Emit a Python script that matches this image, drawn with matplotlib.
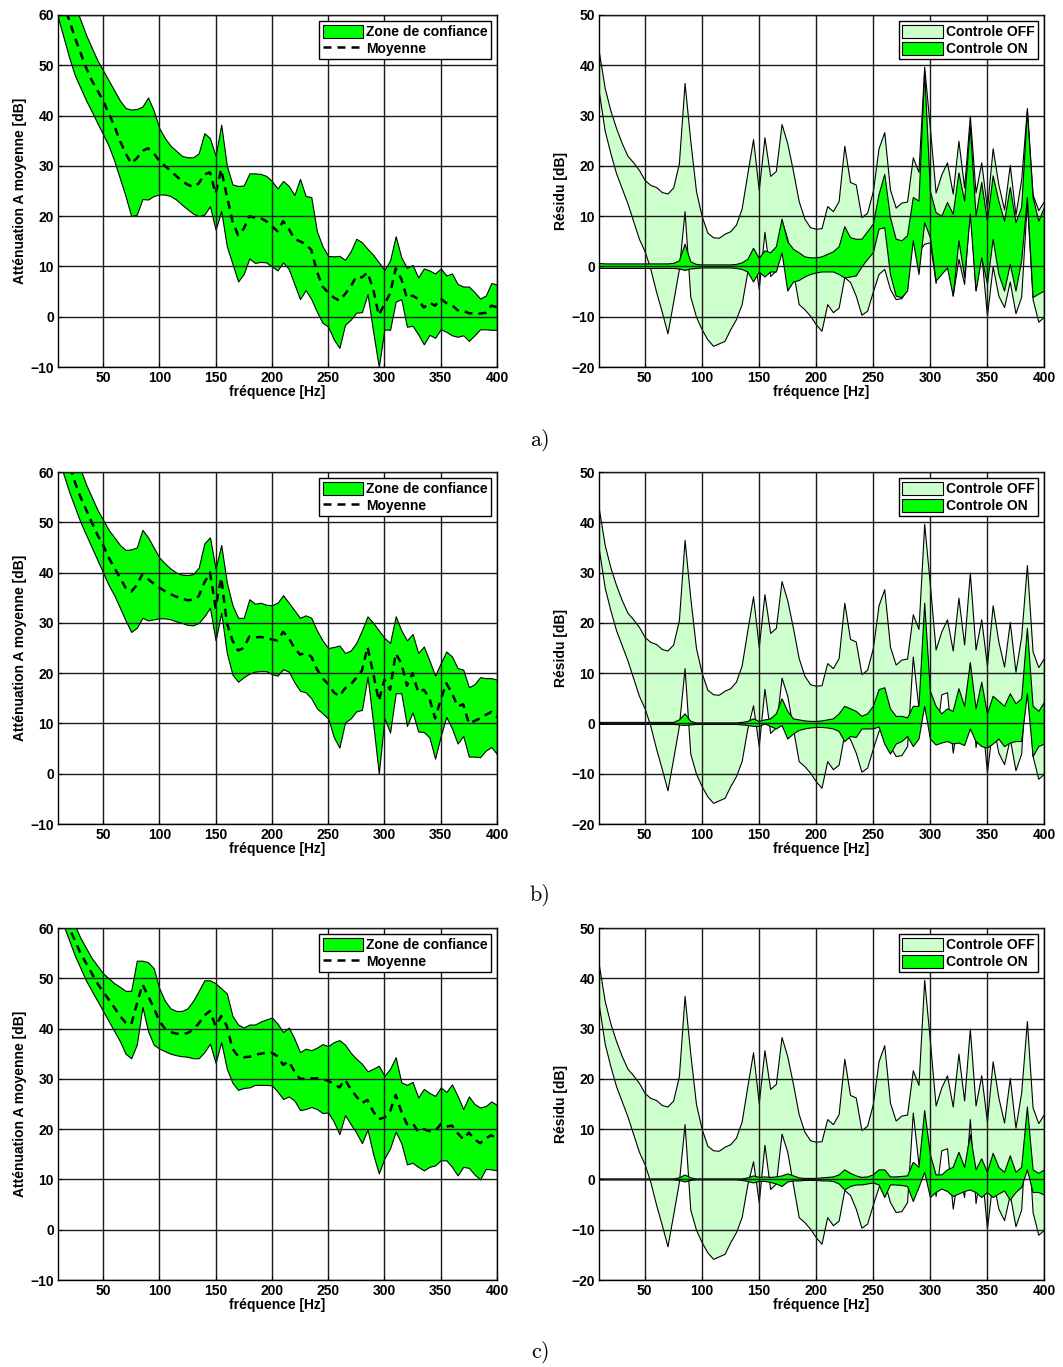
import numpy as np
import matplotlib
matplotlib.use("Agg")
import matplotlib.pyplot as plt
from matplotlib.patches import Patch
from matplotlib.lines import Line2D

plt.rcParams['font.family'] = ['Liberation Sans', 'DejaVu Sans']
plt.rcParams['font.weight'] = 'bold'
plt.rcParams['axes.unicode_minus'] = True

# frequences (Hz)
freq = np.arange(10, 405, 5)

# ---------------- attenuation (colonne gauche) ----------------
att_a_hi = [72, 68, 65, 62, 59, 56, 53.5, 51, 49, 47,
            45, 43, 41.5, 41.2, 41.3, 41.8, 43.6, 41, 37.5, 35.5,
            34, 33, 32, 31.7, 31.7, 32.5, 36.5, 35.5, 32, 38.2,
            30, 26.3, 26, 26.1, 28.5, 28.5, 28.4, 28, 27, 25.5,
            27, 26, 24.2, 27.4, 24, 23.8, 17, 14, 12.1, 12,
            12.1, 11.3, 13, 15.5, 14.8, 13.5, 12.3, 10.8, 9.3, 11.2,
            16, 11.8, 9.7, 10.3, 7.8, 9.6, 9.2, 8.6, 9.6, 8.2,
            8.6, 6.5, 6, 6, 4.9, 3.6, 4.2, 6.7, 6.4]
att_a_lo = [59.5, 55.5, 51.5, 48, 45.5, 43, 40.8, 38.5, 36.3, 34,
            31, 27.5, 24, 20, 20.3, 23.4, 23.3, 24, 24.3, 24.3,
            24, 23.3, 22.3, 21.4, 20.5, 20, 20.3, 22, 17.3, 21,
            14, 10.5, 7, 8.5, 11.6, 10.7, 10.9, 10.8, 10, 9.2,
            10.8, 9.5, 6.5, 3.5, 5.3, 3.5, 1, -1.2, -2, -4.5,
            -6.2, -1.6, -0.6, 0.8, 0.9, 4.5, -3, -10, -2.5, -2.6,
            3, 3.5, -2, -1.8, -3.5, -5.5, -3.6, -4.2, -2.5, -3,
            -3.7, -4, -3.7, -4.8, -3.7, -2.5, -2.5, -2.6, -2.6]
att_a_moy = [66, 62, 59, 55.5, 52.5, 49.5, 47, 45, 43, 40.5,
             38, 35, 32.5, 30.5, 31.5, 33, 33.5, 32.5, 31, 30,
             29, 28, 27, 26.3, 25.8, 26.5, 28.3, 28.7, 24.5, 29.3,
             24, 19, 16.2, 17.5, 20, 19.7, 19.6, 19, 18, 17,
             19, 17.5, 15.5, 15, 14.4, 13.3, 9, 6, 4.8, 3.8,
             3.2, 4.5, 6, 8, 7.8, 8.8, 5.5, 0.3, 2.5, 4.6,
             9.6, 7.5, 3.7, 4.2, 3.5, 1.8, 2.8, 2.2, 3.6, 2.7,
             2.3, 1.3, 1.2, 0.7, 0.6, 0.6, 0.8, 2.2, 1.9]

att_b_hi = [75, 71, 67, 63.5, 60.5, 57.5, 55, 52.5, 50.5, 48.5,
            47, 45.5, 44.5, 44.6, 45, 48.5, 47, 45, 43, 41.8,
            40.8, 40, 39.6, 39.5, 39.7, 41, 45.8, 47, 40.8, 45.5,
            38, 33.5, 31, 31, 34.7, 33.8, 34, 33.6, 33.5, 34,
            35.5, 34, 32.5, 31, 31.5, 31, 28.5, 26.5, 25, 25.2,
            25.5, 24, 24.5, 26, 28.5, 31.3, 30, 28.5, 27, 26,
            31.3, 28.5, 26.5, 27.8, 24, 25.3, 22.5, 19.5, 22, 24.3,
            23.3, 21, 20.7, 17.2, 17.8, 19.2, 19, 19, 18.7]
att_b_lo = [63, 59.5, 56, 53, 50, 47.5, 45, 42.5, 40, 37.5,
            35.5, 33, 30.5, 28.2, 29, 31, 30.5, 30.7, 30.9, 30.9,
            30.7, 30.3, 30, 29.6, 29.5, 30, 31.3, 33, 26.5, 32,
            24, 19.7, 18.3, 19.2, 19.9, 20.3, 20.4, 20.4, 19.8, 19.5,
            20.8, 20.3, 18.2, 16.5, 16.2, 15, 13, 12, 11, 7.3,
            5.2, 10.2, 11, 12.4, 12.7, 19.3, 10, 0, 11, 8.2,
            16, 16, 9.5, 12.2, 8.4, 8.3, 7.2, 3, 7.5, 11.3,
            9, 6, 7.5, 3.4, 3.4, 3.3, 4.6, 5.3, 3.9]
att_b_moy = [69, 65, 61.5, 58, 55, 52.5, 50, 47.5, 45.5, 43,
             41, 39, 37, 36.2, 37.5, 39.7, 38.7, 37.8, 37, 36.3,
             35.7, 35.2, 34.8, 34.5, 34.6, 35.3, 38, 40, 33, 39,
             30, 26.5, 24.5, 25, 27.3, 27.1, 27.2, 27, 26.7, 26.5,
             28.2, 27, 25, 23.7, 24, 23.3, 20.8, 19, 17.8, 16.2,
             15.4, 17, 17.7, 19.1, 20.5, 25.2, 20, 14.5, 18.7, 16.7,
             23.9, 22, 17.5, 20, 16.2, 16.7, 15, 11, 14.7, 18,
             16, 13.4, 13.8, 10, 10.5, 11, 11.7, 12.3, 11.3]

att_c_hi = [70, 66, 63, 60.5, 58, 56, 54, 52.5, 51, 50,
            49, 48.3, 47.5, 47.5, 53.5, 53.5, 53.2, 52, 48, 45.5,
            44, 43.5, 43.5, 44, 45.5, 47.5, 49.6, 49.6, 49, 48,
            47, 42.5, 40.8, 40.2, 40.8, 40.8, 41.4, 41.8, 42.2, 41,
            39.3, 40.2, 38, 35.3, 36, 35.7, 36.2, 36.9, 36.5, 37.3,
            37.7, 36.8, 35.2, 34, 33, 31.5, 32, 32.6, 30.6, 32,
            34.3, 29.3, 28.8, 29.4, 26.3, 28, 27.2, 26.6, 28.3, 27.4,
            28.9, 26.6, 24, 26.5, 25, 24.3, 24.6, 25.5, 24.8]
att_c_lo = [64, 60.5, 57.5, 54.5, 52, 49.5, 47.5, 45.5, 43.5, 41.5,
            39.5, 37.5, 35, 34.1, 36.8, 44.3, 39.5, 36.8, 36, 35.5,
            35, 34.7, 34.5, 34.4, 34.1, 34.1, 35.3, 37, 33.2, 37.3,
            32, 29.2, 27.8, 28.2, 28.3, 28.8, 28.8, 28.8, 28.7, 27.5,
            26, 26.5, 25.7, 23.8, 24, 24.4, 24, 23.2, 23.3, 21.5,
            19, 22.8, 21, 19.3, 17.2, 19.9, 15, 11.2, 14.2, 16.2,
            19.5, 17.2, 13, 13.3, 12.5, 11.8, 12.5, 12.8, 13.8, 13.8,
            12.5, 10.8, 12.5, 12.3, 11, 10, 12.1, 12, 11.8]
att_c_moy = [67, 63, 60, 57.5, 55, 53, 51, 49, 47.3, 45.8,
             44.2, 42.5, 41.2, 40.8, 44.8, 48.8, 46.5, 44.2, 41.5, 40,
             39.3, 39, 38.9, 39.1, 39.8, 41, 42.6, 43.5, 40.5, 42.5,
             40.5, 36, 34.5, 34.3, 34.4, 34.8, 35, 35.2, 35.2, 34.5,
             32.8, 33.5, 31.5, 30, 30, 30.1, 30.1, 30, 29.6, 29,
             28.3, 29.8, 28, 26.5, 25.2, 25.8, 23.5, 22, 22.3, 23.5,
             26.8, 23.5, 21, 21.2, 19.5, 20, 19.6, 19.6, 21, 20.5,
             20.7, 19.2, 18, 19.3, 18, 17.2, 18.2, 18.8, 18]

# ---------------- residu (colonne droite) ----------------
off_hi = [42.5, 35.5, 31, 27.5, 24.5, 22, 20.7, 19.2, 17.2, 16.2,
          15.8, 14.8, 14.5, 15.7, 20.5, 36.5, 25, 15, 10, 6.7,
          5.8, 5.7, 6.5, 7, 8.3, 11.5, 18.5, 25.3, 15.2, 25.7,
          18, 19, 28.3, 24.5, 19, 13, 9.5, 7.8, 7.5, 7.6,
          12, 11, 13, 24, 16.8, 16.3, 9.8, 10.7, 15, 23.5,
          26.7, 15.3, 11.7, 12.7, 12.9, 21.7, 18.8, 39.7, 27.5, 14.7,
          18.3, 20.7, 14.5, 25, 15.7, 30, 14.7, 20.7, 11.5, 23.5,
          16.3, 11.3, 20.2, 10.3, 17.3, 31.5, 14.3, 11.2, 13]
off_lo = [34.5, 27, 22.5, 18.5, 15.5, 12.5, 9, 5.5, 3, -0.5,
          -5, -9, -13.3, -7, -0.5, 11, -6, -10, -12.5, -14.5,
          -15.8, -15.3, -14.8, -12.5, -10.5, -7.5, -1, 3.6, -4.5, 6.9,
          -1.9, -0.8, 9.1, 5.5, -1, -7.5, -8.5, -9.8, -11.5, -12.8,
          -7.5, -9.1, -8.2, -2.1, -3.1, -5.8, -9.6, -8.8, -5, -1.5,
          -0.5, -4.5, -6.5, -6.3, -4.5, 13.3, 3, 4.5, 4.8, -3.3,
          5.8, 6.2, -5.8, 1.5, -3.5, 12, -4.7, 2.5, -9.8, 0,
          -5.8, -8.1, -3, -9.3, -6, 13, -6.5, -11, -10]

on_a_hi = [0.7, 0.6, 0.6, 0.6, 0.6, 0.6, 0.6, 0.6, 0.6, 0.6,
           0.6, 0.6, 0.6, 0.7, 1.2, 4.5, 1, 0.5, 0.4, 0.4,
           0.4, 0.4, 0.4, 0.4, 0.5, 0.8, 1.5, 3.7, 1.7, 3.2,
           2.8, 4, 9.5, 5, 3.5, 2.8, 2, 1.8, 1.8, 2,
           2.5, 3, 4, 8, 5.8, 5.5, 5.5, 7, 8.5, 14.4,
           18.4, 9.8, 5.5, 5.2, 6.2, 13.8, 13.1, 38.9, 15, 10.8,
           10.1, 12.8, 10.5, 18.7, 13.1, 28, 10.1, 16.8, 9.1, 18.1,
           13.1, 9.1, 15.8, 8.8, 11.8, 31, 13.8, 9.1, 11.8]
on_a_lo = [-0.3, -0.3, -0.3, -0.3, -0.3, -0.3, -0.3, -0.3, -0.3, -0.3,
           -0.3, -0.3, -0.3, -0.3, -0.4, -0.7, -0.4, -0.3, -0.2, -0.2,
           -0.2, -0.2, -0.2, -0.2, -0.3, -0.5, -1, -3, -1, -2,
           -1, -1, 2.8, -4.8, -3, -2.7, -2, -1.5, -1.2, -1,
           -1, -1, -1.5, -2.2, -2, -1.8, 0, 1.5, 2.8, 7.5,
           7.8, -1.5, -5.8, -6.1, -4.8, 5.2, -1.5, 8.8, 5.8, -2.8,
           -1.5, -0.2, -5.8, 5.2, -2.1, 10.5, -4.8, 1.8, -3.4, 5.5,
           -1.5, -4.8, 0.5, -4.8, 1.2, 13.8, -6.1, -5.4, -4.8]

on_b_hi = [0.3, 0.3, 0.3, 0.3, 0.3, 0.3, 0.3, 0.3, 0.3, 0.3,
           0.3, 0.3, 0.3, 0.3, 0.8, 2, 0.5, 0.2, 0.2, 0.2,
           0.2, 0.2, 0.2, 0.2, 0.2, 0.3, 0.5, 1, 0.5, 0.8,
           1, 2, 5, 2.5, 1, 0.8, 0.6, 0.5, 0.5, 0.6,
           0.8, 1, 2, 3.5, 3, 2.5, 1.5, 2, 3.5, 6.8,
           7.2, 3, 1.5, 1.5, 1.2, 3.5, 3.5, 24, 6.5, 3.5,
           2, 3, 2.5, 7, 3.5, 12.2, 3, 8.3, 2, 5.5,
           4.5, 3.5, 6, 4, 5, 19, 3.5, 2.5, 4.3]
on_b_lo = [-0.1, -0.1, -0.1, -0.1, -0.1, -0.1, -0.1, -0.1, -0.1, -0.1,
           -0.1, -0.1, -0.1, -0.1, -0.2, -0.3, -0.2, -0.1, -0.1, -0.1,
           -0.1, -0.1, -0.1, -0.1, -0.1, -0.2, -0.3, -0.5, -0.5, 0,
           -0.5, -1, -0.3, -3, -2, -1.3, -1, -0.8, -0.7, -0.7,
           -0.8, -1, -1.5, -3.5, -2.5, -2.7, -1, -1, -1, -0.6,
           -4, -6, -4, -3.5, -2.5, -4.5, -3, 3.5, -3, -4.2,
           -3.8, -3.5, -4, -3.8, -4.3, -1, -3.5, -4.5, -4.8, -4,
           -3, -4.5, -3.8, -3.5, -3.5, 6, -6.5, -4.5, -4]

on_c_hi = [0.2, 0.2, 0.2, 0.2, 0.2, 0.2, 0.2, 0.2, 0.2, 0.2,
           0.2, 0.2, 0.2, 0.2, 0.4, 1, 0.4, 0.2, 0.2, 0.2,
           0.2, 0.2, 0.2, 0.2, 0.2, 0.2, 0.4, 0.8, 0.5, 0.6,
           0.5, 0.6, 0.8, 1.2, 0.8, 0.4, 0.3, 0.3, 0.3, 0.4,
           0.5, 0.6, 1, 2, 1.3, 0.8, 0.5, 0.6, 1, 2,
           2, 0.6, 0.6, 0.7, 0.8, 3.5, 2.5, 13.8, 5, 1,
           1, 2, 2.5, 5.5, 2.5, 9, 2, 4.2, 1.5, 5.3,
           2.5, 1.5, 4.8, 1.5, 2.5, 14.5, 2, 1.3, 2]
on_c_lo = [0, 0, 0, 0, 0, 0, 0, 0, 0, 0,
           0, 0, 0, 0, -0.1, -0.4, -0.1, 0, 0, 0,
           0, 0, 0, 0, 0, -0.1, -0.3, -0.6, -0.3, -0.3,
           -0.5, -0.8, -1.3, -0.4, -0.2, -0.2, -0.1, -0.1, -0.1, -0.2,
           -0.2, -0.3, -0.8, -2, -1.3, -1, -1, -0.8, -0.6, -1,
           -3.5, -1, -1, -1.1, -1.3, -4.3, -1.5, 1.5, -3.5, -2.5,
           -1.8, -2.3, -3.3, -2.8, -2.3, -2, -2.5, -3.5, -2.5, -3.5,
           -2.8, -2.2, -4, -2.5, -1.5, 2, -2.5, -2.5, -3]

att_rows = [(att_a_hi, att_a_lo, att_a_moy),
            (att_b_hi, att_b_lo, att_b_moy),
            (att_c_hi, att_c_lo, att_c_moy)]
on_rows = [(on_a_hi, on_a_lo), (on_b_hi, on_b_lo), (on_c_hi, on_c_lo)]
captions = ['a)', 'b)', 'c)']

VERT = '#00ff00'
VERT_CLAIR = '#ccffcc'

fig = plt.figure(figsize=(10.63, 13.67), dpi=100)
W, H = 1063.0, 1367.0
row_top = [15, 472, 928]
row_h = 352
cap_y = [440, 895, 1352]


def style_axe(ax, ylim, yticks, ylabel):
    ax.set_xlim(10, 400)
    ax.set_ylim(*ylim)
    ax.set_xticks(np.arange(50, 401, 50))
    ax.set_yticks(yticks)
    ax.grid(True, color='#1a1a1a', linestyle='-', linewidth=1.0)
    ax.set_axisbelow(False)
    ax.tick_params(direction='in', length=3, labelsize=10, pad=3)
    for t in ax.get_xticklabels() + ax.get_yticklabels():
        t.set_fontweight('bold')
    for s in ax.spines.values():
        s.set_linewidth(1.0)
    ax.set_xlabel('fréquence [Hz]', fontsize=10, fontweight='bold', labelpad=0)
    ax.set_ylabel(ylabel, fontsize=10, fontweight='bold', labelpad=2)


def legende(ax, handles, labels):
    leg = ax.legend(handles, labels, loc='upper right',
                    prop={'weight': 'bold', 'size': 10}, fancybox=False,
                    framealpha=1, edgecolor='black', borderaxespad=0.45,
                    handlelength=2.9, handleheight=1.05, handletextpad=0.2,
                    borderpad=0.25, labelspacing=0.2)
    leg.get_frame().set_linewidth(1.0)


for i in range(3):
    bottom = 1 - (row_top[i] + row_h) / H
    hi, lo, moy = att_rows[i]

    # --- gauche : attenuation ---
    ax1 = fig.add_axes([58 / W, bottom, 439 / W, row_h / H])
    ax1.fill_between(freq, lo, hi, facecolor=VERT, edgecolor='black', linewidth=0.8)
    ax1.plot(freq, moy, color='black', linestyle='--', linewidth=1.8, dashes=(3.2, 2.4))
    style_axe(ax1, (-10, 60), np.arange(-10, 61, 10), 'Atténuation A moyenne [dB]')
    legende(ax1,
            [Patch(facecolor=VERT, edgecolor='black', linewidth=0.8),
             Line2D([], [], color='black', linestyle='--', linewidth=1.8, dashes=(3.2, 2.4))],
            ['Zone de confiance', 'Moyenne'])

    # --- droite : residu ---
    on_hi, on_lo = on_rows[i]
    ax2 = fig.add_axes([599 / W, bottom, 445 / W, row_h / H])
    ax2.fill_between(freq, off_lo, off_hi, facecolor=VERT_CLAIR, edgecolor='black', linewidth=0.8)
    ax2.fill_between(freq, on_lo, on_hi, facecolor=VERT, edgecolor='black', linewidth=0.8)
    style_axe(ax2, (-20, 50), np.arange(-20, 51, 10), 'Résidu [dB]')
    legende(ax2,
            [Patch(facecolor=VERT_CLAIR, edgecolor='black', linewidth=0.8),
             Patch(facecolor=VERT, edgecolor='black', linewidth=0.8)],
            ['Controle OFF', 'Controle ON'])

    fig.text(540 / W, 1 - cap_y[i] / H, captions[i], family=['cmr10', 'DejaVu Serif'],
             fontweight='normal', fontsize=16, ha='center', va='center')

fig.savefig('out.png', dpi=100)
